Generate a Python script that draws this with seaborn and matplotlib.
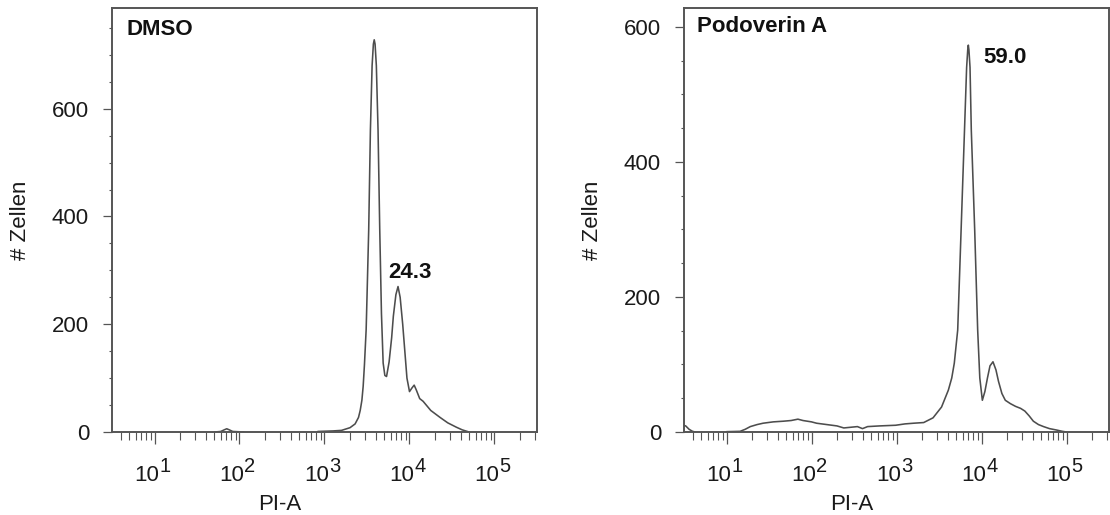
import numpy as np
import pandas as pd
import matplotlib
matplotlib.use("Agg")
import matplotlib.pyplot as plt
import matplotlib.transforms as mtransforms
import seaborn as sns
from matplotlib.ticker import LogLocator, MultipleLocator, NullFormatter, FixedLocator

# ---------------- data ----------------
panel_titles = ["DMSO", "Podoverin A"]
peak_labels = ["24.3", "59.0"]
y_limits = [787, 628]
x_tick_exponents = [1, 2, 3, 4, 5]
y_tick_values = [0, 200, 400, 600]

# DMSO histogram: log10(PI-A), cell counts, line segment id
dmso_log_pi = [1.71, 1.78, 1.82, 1.85, 1.88, 1.92, 2.05,
               2.92, 3.10, 3.20, 3.30, 3.36, 3.40, 3.42, 3.44, 3.455, 3.47, 3.49,
               3.50, 3.52, 3.54,
               3.56, 3.575, 3.585, 3.595, 3.61, 3.63, 3.65, 3.67, 3.69, 3.71,
               3.73, 3.76, 3.79, 3.81, 3.84, 3.865, 3.89, 3.92, 3.94, 3.97,
               4.00, 4.03, 4.055, 4.08, 4.12, 4.16, 4.25, 4.36, 4.45, 4.55,
               4.62, 4.67, 4.70]
dmso_cells = [0, 1, 4, 6, 4, 1, 0,
              1, 2, 3, 8, 15, 27, 40, 59, 85, 125, 190,
              250, 375, 560,
              680, 720, 728, 720, 680, 560, 375, 220, 128, 105,
              103, 130, 175, 215, 255, 270, 250, 200, 160, 100,
              75, 82, 87, 78, 62, 57, 40, 27, 17, 9,
              4, 1.5, 0]
dmso_segment = [0] * 7 + [1] * 47

# Podoverin A histogram
podo_log_pi = [0.49, 0.52, 0.56, 0.60, 0.63,
               1.00, 1.16, 1.22, 1.28, 1.36, 1.43, 1.55, 1.67, 1.76, 1.84,
               1.90, 2.00, 2.06, 2.18, 2.30, 2.38, 2.46, 2.54, 2.60, 2.66,
               2.80, 2.99, 3.10, 3.20, 3.32, 3.43, 3.53, 3.61, 3.65, 3.68,
               3.72, 3.76, 3.80, 3.825, 3.838, 3.845, 3.852, 3.865, 3.88, 3.92,
               3.955, 3.98, 4.01, 4.04, 4.07, 4.10, 4.135, 4.17, 4.20, 4.24,
               4.28, 4.34, 4.40, 4.46, 4.51, 4.56, 4.61, 4.67, 4.73, 4.80,
               4.88, 4.95, 5.00]
podo_cells = [10, 9, 4, 1, 0,
              0.5, 1, 4, 8, 11, 13, 15, 16, 17, 19,
              17, 15, 13, 11, 9, 6, 7, 8, 5, 8,
              9, 10, 12, 13, 14, 21, 37, 62, 80, 102,
              151, 299, 447, 540, 566, 573, 566, 540, 447, 299,
              151, 80, 47, 60, 80, 98, 104, 92, 75, 57,
              47, 42, 38, 35, 31, 24, 16, 11, 8, 5,
              3, 1, 0]
podo_segment = [0] * 5 + [1] * 63

# ---------------- style ----------------
sns.set_theme(style="white")
plt.rcParams["font.family"] = ["Liberation Sans", "DejaVu Sans"]

frame_col = "#555555"
line_col = "#4d4d4d"
text_col = "#1a1a1a"

W, H = 1110, 515
fig = plt.figure(figsize=(W / 100, H / 100), dpi=100)

ax_boxes = [(112, 8, 425, 424), (684, 8, 425, 424)]
label_anchor = [(4.006, 286), (4.276, 546)]
title_pos = [(0.033, 0.936), (0.031, 0.943)]

datasets = [
    pd.DataFrame({"PI-A": np.power(10.0, dmso_log_pi), "cells": dmso_cells,
                  "segment": dmso_segment}),
    pd.DataFrame({"PI-A": np.power(10.0, podo_log_pi), "cells": podo_cells,
                  "segment": podo_segment}),
]

for i, df in enumerate(datasets):
    x0, y0, w, h = ax_boxes[i]
    ax = fig.add_axes([x0 / W, 1 - (y0 + h) / H, w / W, h / H])
    sns.lineplot(data=df, x="PI-A", y="cells", units="segment", estimator=None,
                 sort=False, color=line_col, linewidth=1.15, ax=ax, legend=False)
    ax.set_xscale("log")
    ax.set_xlim(10 ** 0.5, 10 ** 5.5)
    ax.set_ylim(0, y_limits[i])

    ax.xaxis.set_major_locator(FixedLocator([10.0 ** e for e in x_tick_exponents]))
    ax.xaxis.set_major_formatter(NullFormatter())
    ax.xaxis.set_minor_locator(LogLocator(base=10, subs=np.arange(2, 10), numticks=50))
    ax.xaxis.set_minor_formatter(NullFormatter())
    ax.yaxis.set_major_locator(FixedLocator(y_tick_values))
    ax.yaxis.set_minor_locator(MultipleLocator(50))

    ax.tick_params(axis="x", which="major", direction="out", length=8.6, width=0.9,
                   color=frame_col, bottom=True)
    ax.tick_params(axis="x", which="minor", direction="out", length=5.5, width=0.8,
                   color=frame_col, bottom=True)
    ax.tick_params(axis="y", which="major", direction="out", length=6.5, width=0.9,
                   color=frame_col, labelsize=16, labelcolor=text_col, pad=10, left=True)
    ax.tick_params(axis="y", which="minor", direction="out", length=2.5, width=0.8,
                   color=frame_col, left=True)

    # decade tick labels "10" with a large raised exponent (FlowJo style)
    blend = mtransforms.blended_transform_factory(ax.transData, ax.transAxes)
    shift = mtransforms.ScaledTranslation(3.4 / 72, 0, fig.dpi_scale_trans)
    for e in x_tick_exponents:
        ax.text(10.0 ** e, -0.1156, "10", transform=blend + shift, fontsize=16,
                color=text_col, ha="right", va="baseline", clip_on=False)
        ax.text(10.0 ** e, -0.0955, str(e), transform=blend + shift, fontsize=14.5,
                color=text_col, ha="left", va="baseline", clip_on=False)

    for sp in ax.spines.values():
        sp.set_color(frame_col)
        sp.set_linewidth(1.4)
        sp.set_visible(True)

    ax.set_xlabel("PI-A", fontsize=16, color=text_col, va="center")
    ax.xaxis.set_label_coords(0.394, -0.17)
    ax.set_ylabel("# Zellen", fontsize=16, color=text_col, va="center")
    ax.yaxis.set_label_coords(-92 / 425, 0.5)

    ax.text(title_pos[i][0], title_pos[i][1], panel_titles[i], transform=ax.transAxes,
            fontsize=16, fontweight="bold", color="#111111", ha="left", va="baseline")
    lx, ly = label_anchor[i]
    ax.text(10 ** lx, ly, peak_labels[i], fontsize=16, fontweight="bold",
            color="#111111", ha="center", va="baseline")
    ax.grid(False)

fig.savefig("out.png", dpi=100, facecolor="white")
